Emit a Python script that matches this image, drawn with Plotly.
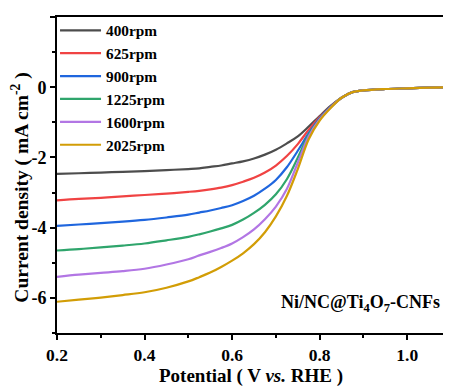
import plotly.graph_objects as go

potential = [0.2, 0.25, 0.3, 0.35, 0.4, 0.45, 0.5, 0.525, 0.55, 0.575, 0.6, 0.625, 0.65, 0.675,
             0.7, 0.725, 0.75, 0.775, 0.8, 0.825, 0.85, 0.875, 0.9, 0.95, 1.0, 1.05, 1.1]
tail = [-0.30, -0.14, -0.09, -0.05, -0.03, -0.01, 0.0]

j_400 = [-2.47, -2.45, -2.43, -2.41, -2.39, -2.36, -2.33, -2.31, -2.27, -2.23, -2.17, -2.11, -2.03,
         -1.92, -1.78, -1.60, -1.40, -1.12, -0.82, -0.53] + tail
j_625 = [-3.22, -3.18, -3.15, -3.11, -3.07, -3.03, -2.98, -2.95, -2.91, -2.86, -2.79, -2.69, -2.58,
         -2.43, -2.23, -1.96, -1.62, -1.21, -0.85, -0.55] + tail
j_900 = [-3.95, -3.91, -3.87, -3.83, -3.78, -3.71, -3.63, -3.57, -3.51, -3.44, -3.36, -3.24, -3.09,
         -2.89, -2.64, -2.28, -1.81, -1.31, -0.88, -0.56] + tail
j_1225 = [-4.65, -4.61, -4.56, -4.51, -4.45, -4.36, -4.26, -4.19, -4.11, -4.02, -3.92, -3.77, -3.58,
          -3.35, -3.05, -2.62, -2.01, -1.35, -0.90, -0.57] + tail
j_1600 = [-5.40, -5.34, -5.29, -5.24, -5.17, -5.05, -4.90, -4.79, -4.69, -4.58, -4.45, -4.27, -4.05,
          -3.76, -3.40, -2.90, -2.15, -1.40, -0.92, -0.58] + tail
j_2025 = [-6.11, -6.05, -5.99, -5.92, -5.84, -5.71, -5.53, -5.41, -5.28, -5.12, -4.94, -4.73, -4.47,
          -4.13, -3.68, -3.10, -2.33, -1.48, -0.95, -0.59] + tail

series_names = ["400rpm", "625rpm", "900rpm", "1225rpm", "1600rpm", "2025rpm"]
series_values = [j_400, j_625, j_900, j_1225, j_1600, j_2025]
colors = ["#4d4d4d", "#f04343", "#1f66de", "#2fa56c", "#b276e4", "#d29d06"]

x_tickvals = [0.2, 0.4, 0.6, 0.8, 1.0]
x_ticktext = ["0.2", "0.4", "0.6", "0.8", "1.0"]
y_tickvals = [-6, -4, -2, 0, 2]
y_ticktext = ["-6", "-4", "-2", "0", "2"]

FONT = "Liberation Serif"
BOLD = dict(family=FONT, color="black", weight="bold")

fig = go.Figure()
for name, vals, col in zip(series_names, series_values, colors):
    fig.add_trace(go.Scatter(x=potential, y=vals, mode="lines", name=name,
                             line=dict(color=col, width=2.2, shape="spline", smoothing=1.0)))

# the page body has an 8px default margin, so margins are offset to compensate
fig.update_layout(
    width=451, height=390,
    margin=dict(l=49, r=8, t=6, b=65),
    paper_bgcolor="white", plot_bgcolor="white",
    font=dict(family=FONT, color="black"),
    showlegend=True,
    legend=dict(x=-0.005, y=1.01, xanchor="left", yanchor="top",
                bgcolor="rgba(0,0,0,0)", borderwidth=0,
                font=dict(size=15.3, **BOLD),
                itemwidth=41, tracegroupgap=0),
    xaxis=dict(range=[0.2, 1.1], automargin=False, showline=True, linecolor="black", linewidth=2,
               mirror=True, ticks="outside", ticklen=5, tickwidth=1.5, tickcolor="black",
               tickvals=x_tickvals, ticktext=x_ticktext,
               minor=dict(dtick=0.1, ticks="outside", ticklen=3, tickwidth=1.5, tickcolor="black"),
               showgrid=False, zeroline=False,
               tickfont=dict(size=17.5, **BOLD),
               title=dict(text="")),
    yaxis=dict(range=[-7, 2], automargin=False, showline=True, linecolor="black", linewidth=2,
               mirror=False, ticks="outside", ticklen=5, tickwidth=1.5, tickcolor="black",
               tickvals=y_tickvals, ticktext=y_ticktext,
               minor=dict(dtick=1, ticks="outside", ticklen=3, tickwidth=1.5, tickcolor="black"),
               showgrid=False, zeroline=False,
               tickfont=dict(size=18, **BOLD),
               title=dict(text="")),
)

# axis titles
fig.add_annotation(text="Potential ( V <i>vs.</i> RHE )",
                   xref="paper", yref="paper", x=0.492, y=-0.136,
                   xanchor="center", yanchor="middle", showarrow=False,
                   font=dict(size=19, **BOLD))
fig.add_annotation(text="Current density ( mA cm<sup>-2</sup> )", textangle=-90,
                   xref="paper", yref="paper", x=-0.093, y=0.461,
                   xanchor="center", yanchor="middle", showarrow=False,
                   font=dict(size=19.5, **BOLD))

fig.add_annotation(text="Ni/NC@Ti<sub>4</sub>O<sub>7</sub>-CNFs",
                   xref="paper", yref="paper", x=0.977, y=0.094,
                   xanchor="right", yanchor="middle", showarrow=False,
                   font=dict(size=18, **BOLD))

fig.write_html("out.html")
